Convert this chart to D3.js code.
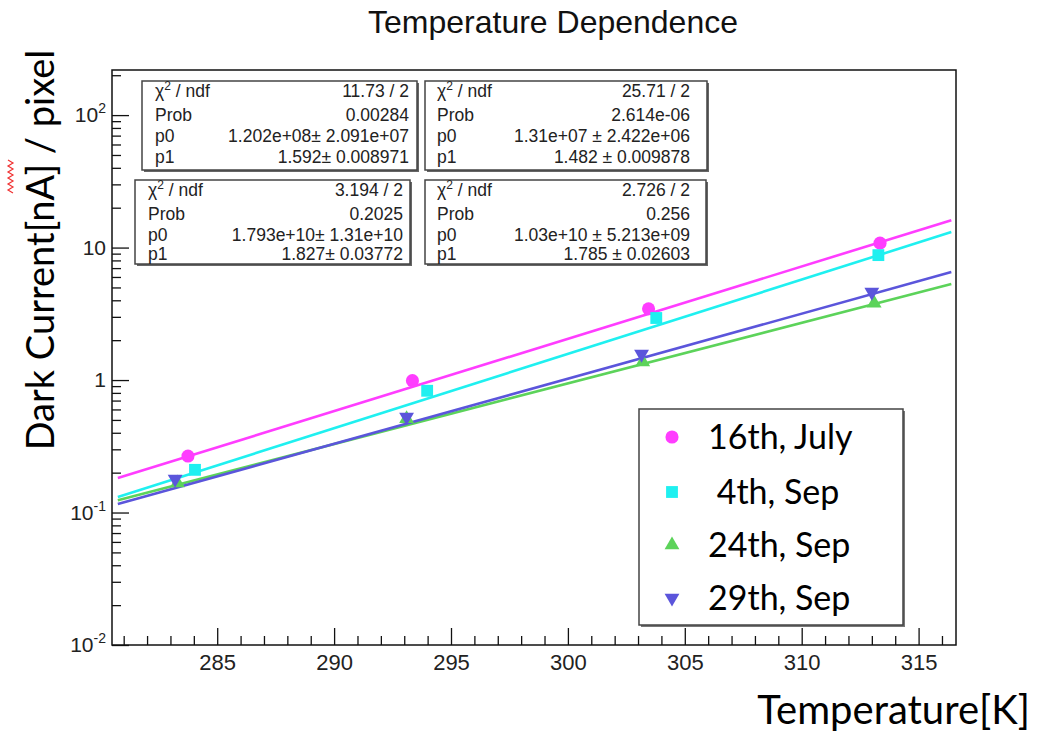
<!DOCTYPE html>
<html>
<head>
<meta charset="utf-8">
<script src="https://cdn.jsdelivr.net/npm/d3@7"></script>
<style>
  body { margin: 0; background: #fff; }
  svg { display: block; }
</style>
</head>
<body>
<svg width="1037" height="735"></svg>
<script>
// data
var seriesNames = ["16th, July", " 4th, Sep", "24th, Sep", "29th, Sep"];
var seriesColors = ["#ff3dff", "#1ff0f0", "#5cd35a", "#5b55db"];
var seriesShapes = ["circle", "square", "up", "down"];

var julyT = [283.75, 293.35, 303.45, 313.35],  julyI = [0.267, 0.99, 3.45, 10.8];
var sep4T = [284.05, 293.98, 303.78, 313.28],  sep4I = [0.21, 0.83, 2.94, 8.77];
var sep24T = [283.3, 293.1, 303.2, 313.1],     sep24I = [0.167, 0.51, 1.37, 3.8];
var sep29T = [283.2, 293.1, 303.15, 313.0],    sep29I = [0.179, 0.526, 1.57, 4.61];

// fitted curves, value at the two ends of the fit range
var fitT = [280.75, 316.4];
var julyFit = [0.182, 16.1];
var sep4Fit = [0.131, 13.1];
var sep24Fit = [0.124, 5.31];
var sep29Fit = [0.116, 6.53];

// fit statistics boxes
var chiNdf = ["11.73 / 2", "25.71 / 2", "3.194 / 2", "2.726 / 2"];
var probs = ["0.00284", "2.614e-06", "0.2025", "0.256"];
var p0s = ["1.202e+08\u00b1 2.091e+07", "1.31e+07 \u00b1 2.422e+06", "1.793e+10\u00b1 1.31e+10", "1.03e+10 \u00b1 5.213e+09"];
var p1s = ["1.592\u00b1 0.008971", "1.482 \u00b1 0.009878", "1.827\u00b1 0.03772", "1.785 \u00b1 0.02603"];

var xMajor = [285, 290, 295, 300, 305, 310, 315];
var yMajor = [0.01, 0.1, 1, 10, 100];
var yTickLabels = [["10", "-2"], ["10", "-1"], ["1", ""], ["10", ""], ["10", "2"]];

var svg = d3.select("svg"),
    pLeft = 112, pRight = 956, pTop = 70, pBottom = 645;

var x = d3.scaleLinear().domain([280.5, 316.6]).range([pLeft, pRight]),
    y = d3.scaleLog().domain([0.01, 219]).range([pBottom, pTop]);

var series = [
  {T: julyT, I: julyI, fit: julyFit},
  {T: sep4T, I: sep4I, fit: sep4Fit},
  {T: sep24T, I: sep24I, fit: sep24Fit},
  {T: sep29T, I: sep29I, fit: sep29Fit}
];

// title
svg.append("text")
  .attr("x", 553).attr("y", 33)
  .attr("text-anchor", "middle")
  .style("font", "32px 'Liberation Sans', Arial, sans-serif")
  .style("fill", "#111")
  .text("Temperature Dependence");

// minor ticks
var xMinor = d3.range(281, 317).filter(function(d) { return d % 5 !== 0; });
var yMinor = [];
[0.01, 0.1, 1, 10, 100].forEach(function(dec) {
  for (var k = 2; k <= 9; k++) if (dec * k <= 219) yMinor.push(dec * k);
});

var gx = svg.append("g").attr("transform", "translate(0," + pBottom + ")");
gx.call(d3.axisBottom(x).tickValues(xMajor).tickSizeInner(-17).tickSizeOuter(0).tickPadding(9)
    .tickFormat(d3.format("d")));
gx.append("g").call(d3.axisBottom(x).tickValues(xMinor).tickSizeInner(-9).tickSizeOuter(0).tickFormat(""));
gx.selectAll(".domain").remove();
gx.selectAll("line").attr("stroke", "#111").attr("stroke-width", 1.3);
gx.selectAll("text")
  .style("font", "22px 'Liberation Sans', Arial, sans-serif")
  .style("fill", "#222");

var gy = svg.append("g").attr("transform", "translate(" + pLeft + ",0)");
gy.call(d3.axisLeft(y).tickValues(yMajor).tickSizeInner(-17).tickSizeOuter(0).tickFormat(""));
gy.append("g").call(d3.axisLeft(y).tickValues(yMinor).tickSizeInner(-9).tickSizeOuter(0).tickFormat(""));
gy.selectAll(".domain").remove();
gy.selectAll("line").attr("stroke", "#111").attr("stroke-width", 1.3);

var ylab = svg.append("g").selectAll("text")
  .data(yMajor)
  .join("text")
  .attr("x", pLeft - 6)
  .attr("y", function(d) { return y(d) + 7; })
  .attr("text-anchor", "end")
  .style("font", "21px 'Liberation Sans', Arial, sans-serif")
  .style("fill", "#222");
ylab.each(function(d, i) {
  var t = d3.select(this), lab = yTickLabels[i];
  t.append("tspan").text(lab[0]);
  if (lab[1]) t.append("tspan").attr("dy", -9).style("font-size", "14px").text(lab[1]);
});

// frame
svg.append("rect")
  .attr("x", pLeft).attr("y", pTop)
  .attr("width", pRight - pLeft).attr("height", pBottom - pTop)
  .attr("fill", "none").attr("stroke", "#111").attr("stroke-width", 1.5);

// fit lines
var line = d3.line().x(function(d) { return x(d[0]); }).y(function(d) { return y(d[1]); });
var plot = svg.append("g");
series.forEach(function(s, i) {
  plot.append("path")
    .datum(fitT.map(function(t, j) { return [t, s.fit[j]]; }))
    .attr("d", line)
    .attr("fill", "none")
    .attr("stroke", seriesColors[i])
    .attr("stroke-width", 2.6);
});

var sym = {
  circle: d3.symbol().type(d3.symbolCircle).size(135),
  square: d3.symbol().type(d3.symbolSquare).size(140),
  up: d3.symbol().type(d3.symbolTriangle).size(95)
};
function marker(sel, shape, color) {
  return sel.append("path")
    .attr("fill", color)
    .attr("d", shape === "down" ? sym.up() : sym[shape]());
}

series.forEach(function(s, i) {
  s.T.forEach(function(t, j) {
    var g = plot.append("g")
      .attr("transform", "translate(" + x(t) + "," + y(s.I[j]) + ")" + (seriesShapes[i] === "down" ? " rotate(180)" : ""));
    marker(g, seriesShapes[i], seriesColors[i]);
  });
});

// stat boxes
var boxes = [
  {x: 142, y: 81, w: 275, h: 89, tl: 155, tr: 409, rows: [97, 121, 142, 163]},
  {x: 425, y: 81, w: 282, h: 89, tl: 437, tr: 690, rows: [97, 121, 142, 163]},
  {x: 135, y: 180, w: 275, h: 84, tl: 148, tr: 403, rows: [196, 220, 241, 260]},
  {x: 425, y: 180, w: 281, h: 84, tl: 437, tr: 690, rows: [196, 220, 241, 260]}
];
var statFont = "17.5px 'Liberation Sans', Arial, sans-serif";
boxes.forEach(function(b, i) {
  var g = svg.append("g");
  g.append("rect").attr("x", b.x + 2).attr("y", b.y + 2).attr("width", b.w).attr("height", b.h)
    .attr("fill", "#666");
  g.append("rect").attr("x", b.x).attr("y", b.y).attr("width", b.w).attr("height", b.h)
    .attr("fill", "#fff").attr("stroke", "#444").attr("stroke-width", 1.5);
  var chi = g.append("text").attr("x", b.tl).attr("y", b.rows[0]).style("font", statFont).style("fill", "#222");
  chi.append("tspan").text("\u03c7");
  chi.append("tspan").attr("dy", -7).style("font-size", "12px").text("2");
  chi.append("tspan").attr("dy", 7).text(" / ndf");
  ["Prob", "p0", "p1"].forEach(function(n, k) {
    g.append("text").attr("x", b.tl).attr("y", b.rows[k + 1]).style("font", statFont).style("fill", "#222").text(n);
  });
  [chiNdf[i], probs[i], p0s[i], p1s[i]].forEach(function(v, k) {
    g.append("text").attr("x", b.tr).attr("y", b.rows[k]).attr("text-anchor", "end")
      .style("font", statFont).style("fill", "#222").style("white-space", "pre").text(v);
  });
});

// legend
var lg = svg.append("g");
lg.append("rect").attr("x", 641).attr("y", 411).attr("width", 264).attr("height", 216).attr("fill", "#777");
lg.append("rect").attr("x", 639).attr("y", 409).attr("width", 264).attr("height", 216)
  .attr("fill", "#fff").attr("stroke", "#444").attr("stroke-width", 1.5);
var legRows = [437, 492, 545, 598];
seriesNames.forEach(function(n, i) {
  var g = lg.append("g")
    .attr("transform", "translate(672," + legRows[i] + ")" + (seriesShapes[i] === "down" ? " rotate(180)" : ""));
  marker(g, seriesShapes[i], seriesColors[i]);
  lg.append("text")
    .attr("x", 708).attr("y", legRows[i] + 12)
    .style("font", "34px Lato, 'Open Sans', sans-serif")
    .style("fill", "#000")
    .style("white-space", "pre")
    .text(n);
});

// axis titles
svg.append("text")
  .attr("x", 1030).attr("y", 724)
  .attr("text-anchor", "end")
  .style("font", "40px Lato, 'Open Sans', sans-serif")
  .style("fill", "#000")
  .text("Temperature[K]");

svg.append("text")
  .attr("transform", "translate(54,250) rotate(-90)")
  .attr("text-anchor", "middle")
  .style("font", "38px Lato, 'Open Sans', sans-serif")
  .style("fill", "#000")
  .text("Dark Current[nA] / pixel");

// spell-check squiggle under "Curr"
var sq = [];
for (var k = 0; k <= 11; k++) sq.push([k % 2 ? 13 : 8, 160 + k * 3]);
svg.append("path")
  .attr("d", d3.line()(sq))
  .attr("fill", "none").attr("stroke", "#f03030").attr("stroke-width", 1.2);
</script>
</body>
</html>
